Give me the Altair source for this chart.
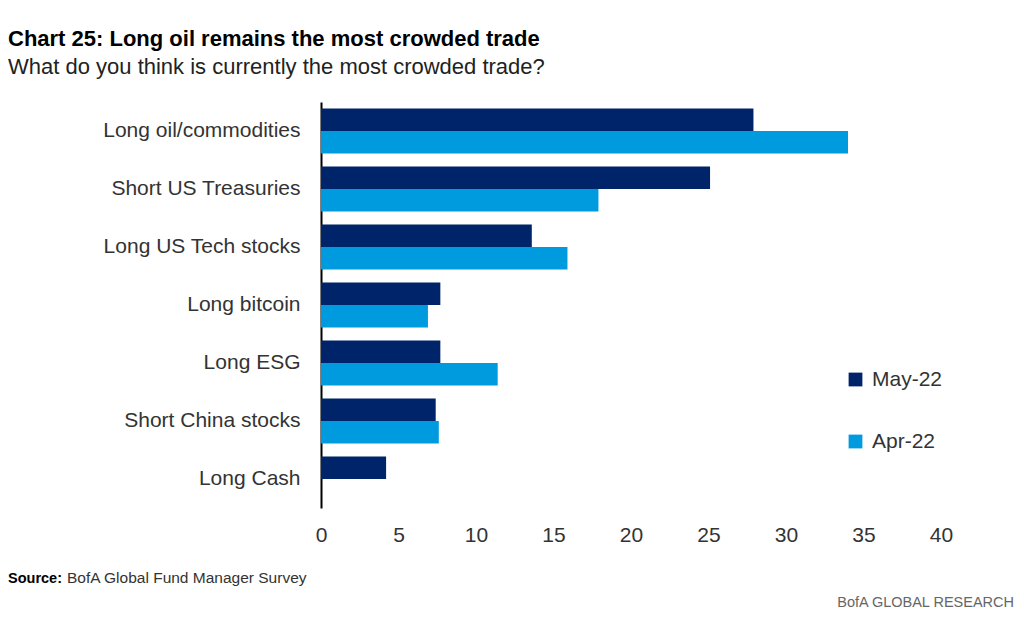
import altair as alt
import pandas as pd

categories = ["Long oil/commodities", "Short US Treasuries", "Long US Tech stocks",
              "Long bitcoin", "Long ESG", "Short China stocks", "Long Cash"]
may_22 = [27.9, 25.1, 13.6, 7.7, 7.7, 7.4, 4.2]
apr_22 = [34.0, 17.9, 15.9, 6.9, 11.4, 7.6, None]
periods = ["May-22", "Apr-22"]
colors = ["#002469", "#009BDE"]
x_ticks = [0, 5, 10, 15, 20, 25, 30, 35, 40]

rows = []
for c, m, a in zip(categories, may_22, apr_22):
    if m is not None:
        rows.append({"Trade": c, "Period": periods[0], "Value": m})
    if a is not None:
        rows.append({"Trade": c, "Period": periods[1], "Value": a})
df = pd.DataFrame(rows)

FONT = "Liberation Sans"
LABEL_COLOR = "#333333"

bars = alt.Chart(df).mark_bar().encode(
    y=alt.Y("Trade:N", sort=categories,
            scale=alt.Scale(paddingInner=0.22, paddingOuter=0.11),
            axis=alt.Axis(title=None, ticks=False, domainColor="#000000", domainWidth=2,
                          labelFontSize=21, labelColor=LABEL_COLOR, labelFont=FONT,
                          labelPadding=21, labelLimit=400)),
    yOffset=alt.YOffset("Period:N", sort=periods,
                        scale=alt.Scale(domain=periods, paddingInner=0, paddingOuter=0)),
    x=alt.X("Value:Q", scale=alt.Scale(domain=[0, 40], nice=False),
            axis=alt.Axis(title=None, values=x_ticks, domain=False, ticks=False, grid=False,
                          labelFontSize=21, labelColor=LABEL_COLOR, labelFont=FONT,
                          labelPadding=16, format="d", labelFlush=False)),
    color=alt.Color("Period:N", sort=periods,
                    scale=alt.Scale(domain=periods, range=colors),
                    legend=alt.Legend(title=None, orient="none", legendX=524, legendY=267,
                                      symbolType="square", symbolSize=190, symbolStrokeWidth=0,
                                      labelFontSize=21, labelColor=LABEL_COLOR, labelFont=FONT,
                                      rowPadding=40, labelOffset=6, padding=0)),
)

one = alt.Data(values=[{"k": 0}])

def txt(text, x, y, size, weight="normal", color="#000000", align="left", font=FONT):
    return alt.Chart(one).mark_text(
        align=align, baseline="alphabetic", fontSize=size, fontWeight=weight,
        color=color, font=font
    ).encode(x=alt.value(x), y=alt.value(y), text=alt.value(text))

title = txt("Chart 25: Long oil remains the most crowded trade", -313, -56, 22, "bold",
            "#000000")
subtitle = txt("What do you think is currently the most crowded trade?", -313, -28, 22,
               "normal", "#222222")
source_b = txt("Source:", -313, 481, 14.5, "bold", "#000000")
source_t = txt("BofA Global Fund Manager Survey", -254, 481, 15.5, "normal", "#333333")
footer = txt("BofA GLOBAL RESEARCH", 693, 505, 14.5, "normal", "#666666", align="right")

chart = alt.layer(bars, title, subtitle, source_b, source_t, footer).properties(
    width=620, height=406,
    background="white",
    autosize=alt.AutoSizeParams(type="none"),
    padding={"left": 313, "top": 94, "right": 75, "bottom": 102},
).configure_view(stroke=None)

chart.save("out.html", embed_options={"renderer": "svg", "actions": False})
